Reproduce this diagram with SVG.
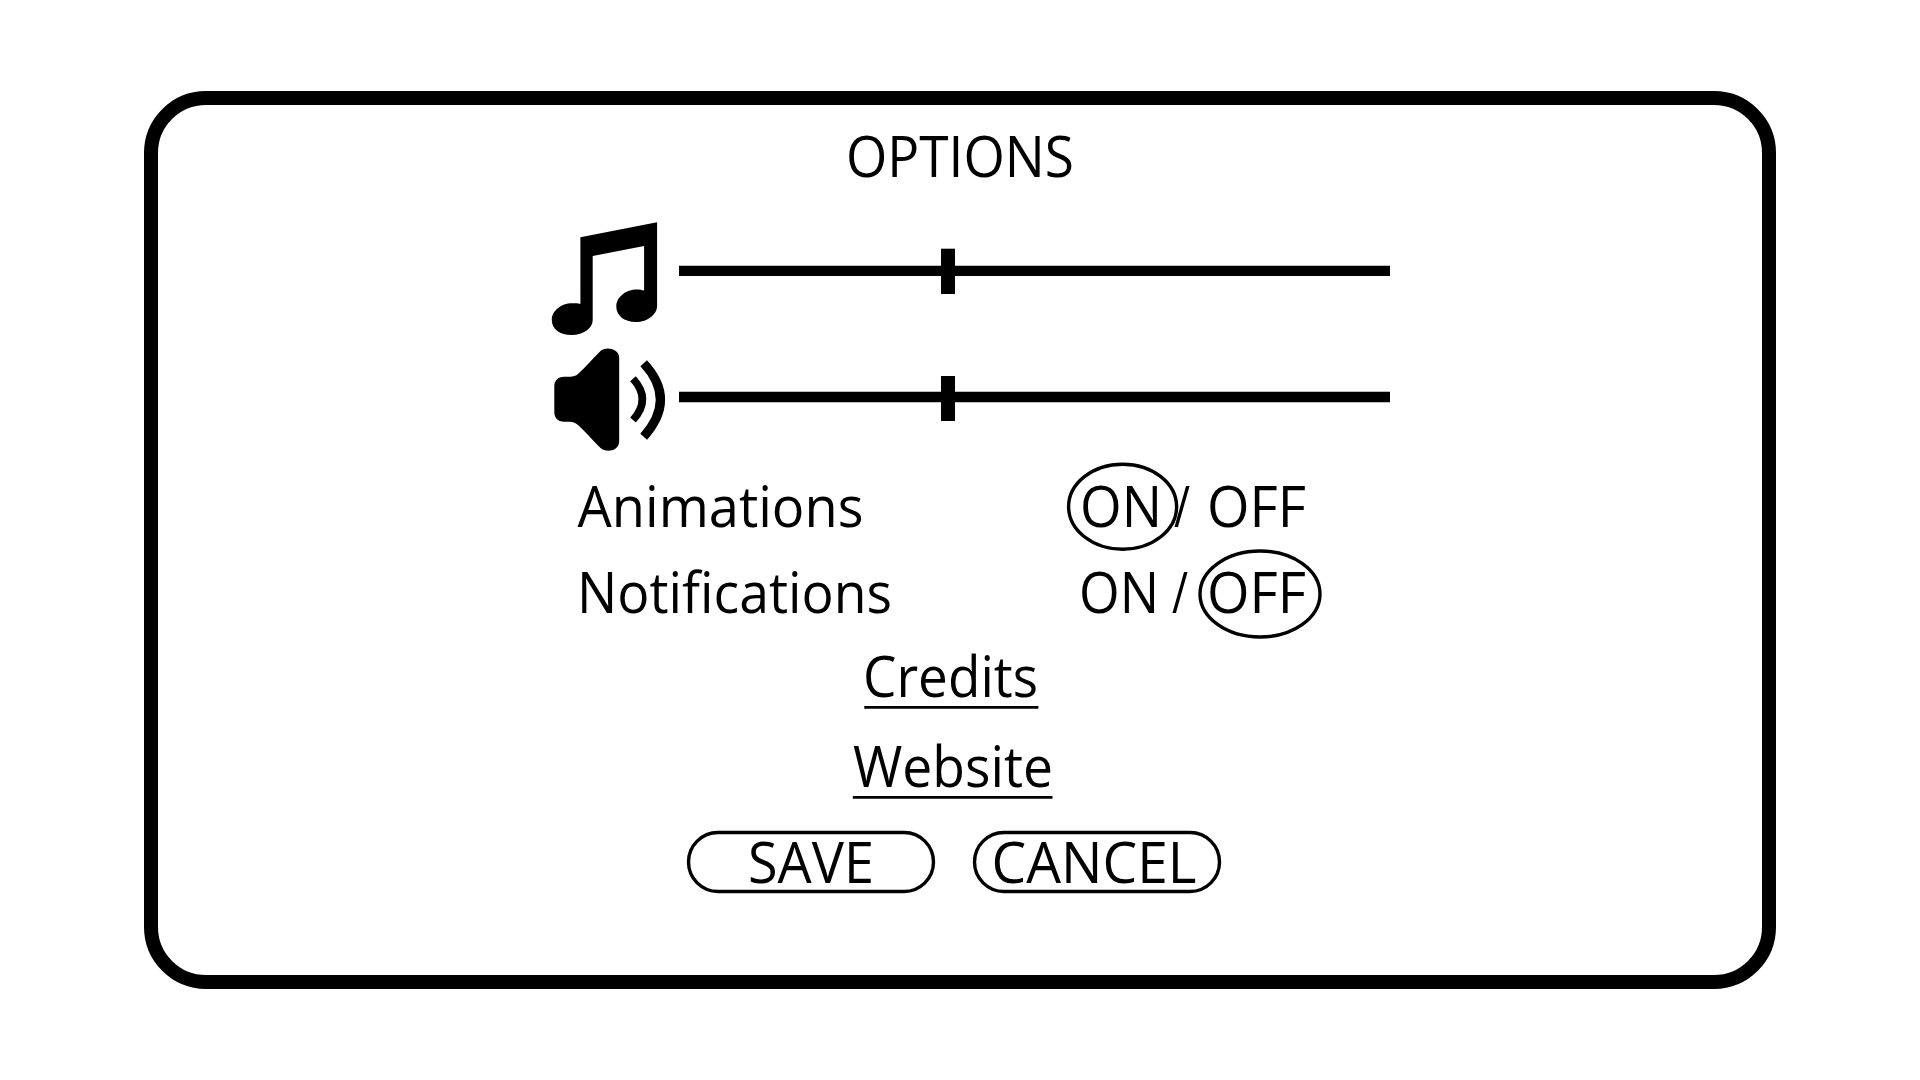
<svg xmlns="http://www.w3.org/2000/svg" width="1920" height="1080" viewBox="0 0 1920 1080">
<style>
text{font-family:"Open Sans","Noto Sans","Liberation Sans",sans-serif;font-size:57px;fill:#000;font-weight:400;font-variant-ligatures:common-ligatures}
.track{stroke:#000;stroke-width:10.3;fill:none}
.knob{fill:#000}
.thin{fill:none;stroke:#000;stroke-width:3.4}
.ul{stroke:#000;stroke-width:2.8}
</style>
<rect width="1920" height="1080" fill="#fff"/>
<g id="frame"><rect x="151" y="98" width="1618" height="884" rx="55" ry="55" fill="#fff" stroke="#000" stroke-width="14"/></g>
<g id="title"><text x="846" y="177" textLength="228" lengthAdjust="spacingAndGlyphs">OPTIONS</text></g>
<g id="music-slider">
<path fill="#000" d="M657.1 222.3V306C657.1 314 648 322 636 322C624 322 616.3 315.5 616.3 306.5C616.3 297 626 289.5 637 289.5C639.5 289.5 642 290 644.1 290.5V246L592.7 256V320C592.7 328 584 335 571.5 335C560 335 551.8 329 551.8 320C551.8 311 561 303.3 572 303.3C575 303.3 578 303.3 580.4 304V237.3Z"/>
<line class="track" x1="679" y1="270.8" x2="1390" y2="270.8"/>
<rect class="knob" x="941" y="248.7" width="14" height="45.3"/>
</g>
<g id="sound-slider">
<path fill="#000" d="M564 376.7H570C573 376.7 576 376 578 374C586 367 592 359 600 351.5C604 347.5 611 348 615 350.5C618 352 619.2 355 619.2 358V441C619.2 444 618 447 615 449C611 451.5 604 451.5 600 447.5C592 440 586 432 578 425C576 423 573 421.7 570 421.7H564C558 421.7 554.3 418 554.3 412V386.5C554.3 380.5 558 376.7 564 376.7Z"/>
<path fill="none" stroke="#000" stroke-width="7.5" d="M633 378.7Q651.8 399.3 633 420"/>
<path fill="none" stroke="#000" stroke-width="9" d="M643.7 363.3Q677.1 399.3 643.7 436.7"/>
<line class="track" x1="679" y1="397" x2="1390" y2="397"/>
<rect class="knob" x="941" y="376" width="14" height="45"/>
</g>
<g id="animations">
<text x="577.5" y="527.2" textLength="286" lengthAdjust="spacingAndGlyphs">Animations</text>
<text x="1080" y="527.2" textLength="82" lengthAdjust="spacingAndGlyphs">ON</text>
<text x="1174" y="527.2" textLength="16" lengthAdjust="spacingAndGlyphs">/</text>
<text x="1207" y="527.2" textLength="99" lengthAdjust="spacingAndGlyphs">OFF</text>
<ellipse class="thin" cx="1122.6" cy="506.7" rx="54" ry="42.5"/>
</g>
<g id="notifications">
<text x="577" y="613.2" textLength="315" lengthAdjust="spacingAndGlyphs">Notifications</text>
<text x="1079" y="613.2" textLength="80" lengthAdjust="spacingAndGlyphs">ON</text>
<text x="1172" y="613.2" textLength="16" lengthAdjust="spacingAndGlyphs">/</text>
<text x="1207" y="613.2" textLength="99" lengthAdjust="spacingAndGlyphs">OFF</text>
<ellipse class="thin" cx="1260" cy="594" rx="60" ry="43"/>
</g>
<g id="credits">
<text x="863" y="696.5" textLength="175" lengthAdjust="spacingAndGlyphs">Credits</text>
<line class="ul" x1="864.3" y1="707.3" x2="1038.4" y2="707.3"/>
</g>
<g id="website">
<text x="853" y="787" textLength="200" lengthAdjust="spacingAndGlyphs">Website</text>
<line class="ul" x1="852.8" y1="797.3" x2="1052.5" y2="797.3"/>
</g>
<g id="save">
<rect class="thin" x="688.5" y="832.5" width="245" height="59" rx="29.5" ry="29.5"/>
<text x="748" y="883" textLength="126" lengthAdjust="spacingAndGlyphs">SAVE</text>
</g>
<g id="cancel">
<rect class="thin" x="974.5" y="832.5" width="245" height="59" rx="29.5" ry="29.5"/>
<text x="991.5" y="883" textLength="205" lengthAdjust="spacingAndGlyphs">CANCEL</text>
</g>
</svg>
